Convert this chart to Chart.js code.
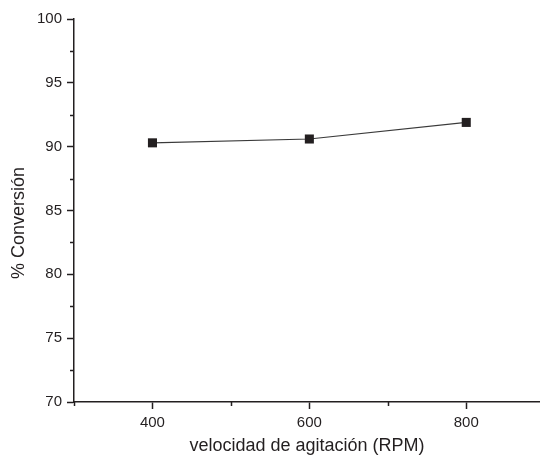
<!DOCTYPE html>
<html>
<head>
<meta charset="utf-8">
<script src="https://cdn.jsdelivr.net/npm/chart.js@4/dist/chart.umd.min.js"></script>
<style>
  html, body { margin: 0; padding: 0; background: #fff; overflow: hidden; }
</style>
</head>
<body>
<canvas id="c" width="540" height="457"></canvas>
<script>
// Agitation speed (RPM) and conversion (%)
const rpm = [400, 600, 800];
const conversion = [90.3, 90.6, 91.9];

// Axis ticks (the x axis runs on past the right edge of the figure)
const xMajorTicks = [400, 600, 800];
const xMinorTicks = [300, 500, 700];
const yMajorTicks = [70, 75, 80, 85, 90, 95, 100];
const yMinorTicks = [72.5, 77.5, 82.5, 87.5, 92.5, 97.5];

const INK = '#231f20';
const FONT = "'Liberation Sans', Arial, sans-serif";

// Short minor ticks and the rotated y title
const extras = {
  id: 'extras',
  afterDraw(chart) {
    const ctx = chart.ctx;
    const xs = chart.scales.x, ys = chart.scales.y;
    const area = chart.chartArea;
    ctx.save();
    ctx.strokeStyle = INK;
    ctx.lineWidth = 1.5;
    ctx.beginPath();
    xMinorTicks.forEach(v => {
      const px = Math.round(xs.getPixelForValue(v)) + 0.5;
      ctx.moveTo(px, area.bottom);
      ctx.lineTo(px, area.bottom + 4);
    });
    yMinorTicks.forEach(v => {
      const py = Math.round(ys.getPixelForValue(v)) + 0.5;
      ctx.moveTo(area.left - 4, py);
      ctx.lineTo(area.left, py);
    });
    ctx.stroke();

    ctx.fillStyle = INK;
    ctx.font = '18px ' + FONT;
    ctx.textAlign = 'center';
    ctx.textBaseline = 'middle';
    ctx.translate(19, 223);
    ctx.rotate(-Math.PI / 2);
    ctx.fillText('% Conversión', 0, 0);
    ctx.restore();
  }
};

new Chart(document.getElementById('c'), {
  type: 'line',
  data: {
    datasets: [{
      data: rpm.map((x, i) => ({ x: x, y: conversion[i] })),
      borderColor: '#3a3a3a',
      borderWidth: 1.2,
      pointStyle: 'rect',
      pointRadius: 6.4,
      pointHoverRadius: 6.4,
      pointBackgroundColor: INK,
      pointBorderColor: INK,
      pointBorderWidth: 0,
      tension: 0
    }]
  },
  options: {
    responsive: false,
    animation: false,
    events: [],
    layout: { autoPadding: false, padding: { top: 19, left: 0, right: 0, bottom: 0 } },
    plugins: { legend: { display: false }, tooltip: { enabled: false } },
    scales: {
      x: {
        type: 'linear',
        min: 300,
        max: 894,
        afterBuildTicks: s => { s.ticks = xMajorTicks.map(v => ({ value: v })); },
        afterFit: s => { s.height = 55; s.paddingLeft = 0; s.paddingRight = 0; },
        border: { color: INK, width: 1.5 },
        grid: { drawOnChartArea: false, drawTicks: true, tickLength: 7, tickColor: INK, tickWidth: 1.5 },
        ticks: {
          color: INK,
          font: { family: FONT, size: 15 },
          padding: 5,
          maxRotation: 0
        },
        title: {
          display: true,
          text: 'velocidad de agitación (RPM)',
          color: INK,
          font: { family: FONT, size: 18 },
          padding: { top: 5, bottom: 0 }
        }
      },
      y: {
        type: 'linear',
        min: 70,
        max: 100,
        afterBuildTicks: s => { s.ticks = yMajorTicks.map(v => ({ value: v })); },
        afterFit: s => { s.width = 74; },
        border: { color: INK, width: 1.5 },
        grid: { drawOnChartArea: false, drawTicks: true, tickLength: 7, tickColor: INK, tickWidth: 1.5 },
        ticks: {
          color: INK,
          font: { family: FONT, size: 15 },
          padding: 5
        }
      }
    }
  },
  plugins: [extras]
});
</script>
</body>
</html>
